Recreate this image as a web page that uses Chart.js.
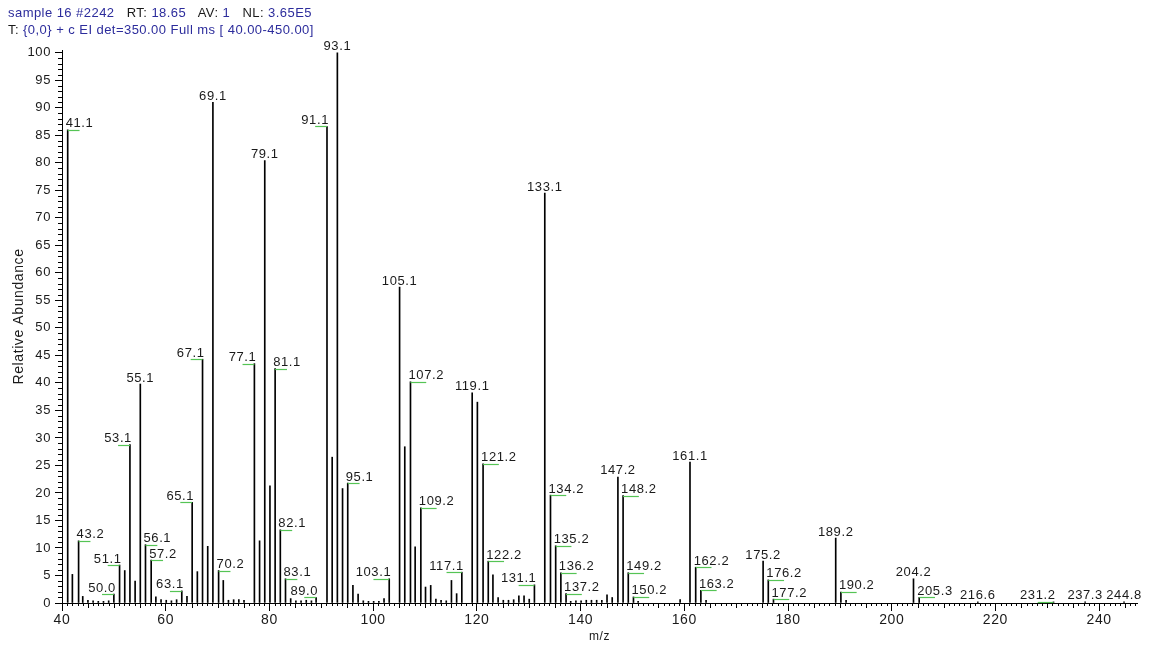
<!DOCTYPE html>
<html>
<head>
<meta charset="utf-8">
<script src="https://cdn.jsdelivr.net/npm/chart.js@4/dist/chart.umd.min.js"></script>
<style>
  html, body { margin: 0; padding: 0; background: #fff; }
  #wrap { position: relative; width: 1153px; height: 646px; overflow: hidden; }
  canvas { position: absolute; left: 0; top: 0; }
  #hdr { position: absolute; left: 8px; top: 4px; font: 13px "Liberation Sans", Arial, sans-serif;
         letter-spacing: 0.45px; line-height: 17px; color: #1a1a1a; white-space: pre; }
  #hdr .v { color: #2c2c9c; }
</style>
</head>
<body>
<div id="wrap">
  <canvas id="spec" width="1153" height="646"></canvas>
  <div id="hdr"><div><span class="v">sample 16 #2242</span>   RT: <span class="v">18.65</span>   AV: <span class="v">1</span>   NL: <span class="v">3.65E5</span></div><div>T: <span class="v">{0,0} + c EI det=350.00 Full ms [ 40.00-450.00]</span></div></div>
</div>
<script>
// Centroid list: m/z and relative abundance (%)
const mz = [
  40.0, 41.1, 42.0, 43.2, 44.0, 45.0, 46.0, 47.0, 48.0, 49.0,
  50.0, 51.1, 52.1, 53.1, 54.1, 55.1, 56.1, 57.2, 58.1, 59.1,
  60.1, 61.1, 62.1, 63.1, 64.1, 65.1, 66.1, 67.1, 68.1, 69.1,
  70.2, 71.1, 72.1, 73.1, 74.1, 75.1, 77.1, 78.1, 79.1, 80.1,
  81.1, 82.1, 83.1, 84.1, 85.1, 86.1, 87.1, 88.1, 89.0, 91.1,
  92.1, 93.1, 94.1, 95.1, 96.1, 97.1, 98.1, 99.1, 100.1, 101.1,
  102.1, 103.1, 105.1, 106.1, 107.2, 108.1, 109.2, 110.1, 111.1, 112.1,
  113.1, 114.1, 115.1, 116.1, 117.1, 119.1, 120.1, 121.2, 122.2, 123.1,
  124.1, 125.1, 126.1, 127.1, 128.1, 129.1, 130.1, 131.1, 133.1, 134.2,
  135.2, 136.2, 137.2, 138.1, 139.1, 140.1, 141.1, 142.1, 143.1, 144.1,
  145.1, 146.1, 147.2, 148.2, 149.2, 150.2, 151.1, 159.2, 161.1, 162.2,
  163.2, 164.2, 175.2, 176.2, 177.2, 189.2, 190.2, 191.2, 204.2, 205.3,
  216.6, 231.2, 237.3, 244.8
];
const abundance = [
  7.0, 86.0, 5.2, 11.3, 1.2, 0.5, 0.4, 0.3, 0.3, 0.4,
  1.6, 6.9, 5.9, 28.8, 4.0, 39.8, 10.6, 7.8, 1.1, 0.6,
  0.5, 0.4, 0.6, 2.2, 1.2, 18.3, 5.7, 44.3, 10.3, 91.0,
  5.9, 4.1, 0.5, 0.6, 0.6, 0.5, 43.5, 11.3, 80.4, 21.3,
  42.6, 13.3, 4.4, 0.8, 0.4, 0.4, 0.5, 0.4, 1.0, 86.6,
  26.5, 100.0, 20.8, 21.8, 3.2, 1.6, 0.4, 0.3, 0.3, 0.3,
  0.8, 4.4, 57.4, 28.4, 40.2, 10.2, 17.3, 2.9, 3.2, 0.7,
  0.5, 0.4, 4.1, 1.7, 5.6, 38.2, 36.5, 25.3, 7.6, 5.1,
  1.0, 0.5, 0.5, 0.6, 1.3, 1.3, 0.7, 3.3, 74.5, 19.6,
  10.4, 5.5, 1.7, 0.3, 0.4, 0.4, 0.5, 0.5, 0.5, 0.5,
  1.5, 1.0, 22.9, 19.5, 5.5, 1.1, 0.3, 0.6, 25.6, 6.5,
  2.3, 0.5, 7.6, 4.2, 0.7, 11.8, 2.0, 0.5, 4.4, 1.0,
  0.2, 0.2, 0.2, 0.2
];

// Annotated peaks and the side their label sits on (c = centred, l = left, r = right)
const labelMz = [
  41.1, 43.2, 50.0, 51.1, 53.1, 55.1, 56.1, 57.2, 63.1, 65.1,
  67.1, 69.1, 70.2, 77.1, 79.1, 81.1, 82.1, 83.1, 89.0, 91.1,
  93.1, 95.1, 103.1, 105.1, 107.2, 109.2, 117.1, 119.1, 121.2, 122.2,
  131.1, 133.1, 134.2, 135.2, 136.2, 137.2, 147.2, 148.2, 149.2, 150.2,
  161.1, 162.2, 163.2, 175.2, 176.2, 177.2, 189.2, 190.2, 204.2, 205.3,
  216.6, 231.2, 237.3, 244.8
];
const labelSide = [
  'r', 'r', 'l', 'l', 'l', 'c', 'r', 'r', 'l', 'l',
  'l', 'c', 'r', 'l', 'c', 'r', 'r', 'r', 'l', 'l',
  'c', 'r', 'l', 'c', 'r', 'r', 'l', 'c', 'r', 'r',
  'l', 'c', 'r', 'r', 'r', 'r', 'c', 'r', 'r', 'r',
  'c', 'r', 'r', 'c', 'r', 'r', 'c', 'r', 'c', 'r',
  'c', 'l', 'c', 'c'
];

// Axis ranges and tick values
const xMin = 40, xMax = 247.3;
const xTickValues = [40, 60, 80, 100, 120, 140, 160, 180, 200, 220, 240];
const yMin = 0, yMax = 100.5;
const yTickValues = [0, 5, 10, 15, 20, 25, 30, 35, 40, 45, 50, 55, 60, 65, 70, 75, 80, 85, 90, 95, 100];
const yTitle = 'Relative Abundance';

const FONT = '"Liberation Sans", Arial, sans-serif';
const INK = '#1a1a1a';

// Slightly open lettering for all canvas text
const spacing = {
  id: 'spacing',
  beforeDraw(chart) { chart.ctx.letterSpacing = '0.6px'; }
};

// Vertical axis title, set a little above the middle of the axis
const yAxisTitle = {
  id: 'yAxisTitle',
  afterDraw(chart) {
    const { ctx, chartArea } = chart;
    ctx.save();
    ctx.font = '14px ' + FONT;
    ctx.letterSpacing = '0.6px';
    ctx.fillStyle = INK;
    ctx.textAlign = 'center';
    ctx.textBaseline = 'middle';
    ctx.translate(19, (chartArea.top + chartArea.bottom) / 2 - 10);
    ctx.rotate(-Math.PI / 2);
    ctx.fillText(yTitle, 0, 0);
    ctx.restore();
  }
};

// Minor tick marks on both axes (every 1 unit, medium marks every 5 on m/z)
const minorTicks = {
  id: 'minorTicks',
  afterDraw(chart) {
    const { ctx, scales: { x, y } } = chart;
    const x0 = x.getPixelForValue(xMin);
    const y0 = y.getPixelForValue(0);
    ctx.save();
    ctx.strokeStyle = '#000';
    ctx.lineWidth = 1;
    ctx.beginPath();
    for (let v = 1; v < 100; v++) {
      if (v % 5 === 0) continue;
      const py = Math.round(y.getPixelForValue(v)) + 0.5;
      ctx.moveTo(x0 - 4, py);
      ctx.lineTo(x0, py);
    }
    for (let m = Math.ceil(xMin); m <= xMax; m++) {
      if (m % 20 === 0) continue;
      const px = Math.round(x.getPixelForValue(m)) + 0.5;
      const len = (m % 5 === 0) ? 5 : 3;
      ctx.moveTo(px, y0);
      ctx.lineTo(px, y0 + len);
    }
    ctx.stroke();
    ctx.restore();
  }
};

// Peak annotations: m/z text above each labelled stick, with a green leader when shifted sideways
const peakLabels = {
  id: 'peakLabels',
  afterDatasetsDraw(chart) {
    const { ctx, scales: { x, y } } = chart;
    ctx.save();
    ctx.font = '13px ' + FONT;
    ctx.letterSpacing = '0.6px';
    ctx.textAlign = 'center';
    ctx.textBaseline = 'alphabetic';
    labelMz.forEach((m, i) => {
      const k = mz.indexOf(m);
      if (k < 0) return;
      const px = x.getPixelForValue(m);
      const py = y.getPixelForValue(abundance[k]);
      const text = m.toFixed(1);
      const w = ctx.measureText(text).width;
      let cx = px;
      if (labelSide[i] === 'r') cx = px - 2 + w / 2;
      if (labelSide[i] === 'l') cx = px + 2 - w / 2;
      if (labelSide[i] !== 'c') {
        ctx.strokeStyle = '#55c455';
        ctx.lineWidth = 1.2;
        ctx.beginPath();
        ctx.moveTo(px, Math.round(py) + 0.5);
        ctx.lineTo(cx, Math.round(py) + 0.5);
        ctx.stroke();
      }
      ctx.fillStyle = INK;
      ctx.fillText(text, cx, py - 2.5);
    });
    ctx.restore();
  }
};

new Chart(document.getElementById('spec'), {
  type: 'bar',
  data: {
    datasets: [{
      data: mz.map((m, i) => ({ x: m, y: abundance[i] })),
      backgroundColor: '#000',
      borderWidth: 0,
      barThickness: 1
    }]
  },
  options: {
    responsive: false,
    animation: false,
    events: [],
    layout: { padding: { left: 0, right: 16, top: 50, bottom: 0 } },
    plugins: { legend: { display: false }, tooltip: { enabled: false } },
    scales: {
      x: {
        type: 'linear',
        min: xMin,
        max: xMax,
        offset: false,
        grid: { offset: false, drawOnChartArea: false, drawTicks: true, tickLength: 8, color: '#000' },
        border: { color: '#000', width: 1 },
        ticks: { color: INK, font: { family: FONT, size: 14 }, padding: 1, maxRotation: 0, autoSkip: false },
        afterBuildTicks: s => { s.ticks = xTickValues.map(v => ({ value: v })); },
        title: { display: true, text: 'm/z', color: INK, font: { family: FONT, size: 12 }, padding: { top: 0, bottom: 2 } },
        afterFit: s => { s.height = 43; }
      },
      y: {
        min: yMin,
        max: yMax,
        grid: { drawOnChartArea: false, drawTicks: true, tickLength: 7, color: '#000' },
        border: { color: '#000', width: 1 },
        ticks: { color: INK, font: { family: FONT, size: 13 }, padding: 4, autoSkip: false },
        afterBuildTicks: s => { s.ticks = yTickValues.map(v => ({ value: v })); },
        afterFit: s => { s.width = 62; }
      }
    }
  },
  plugins: [spacing, yAxisTitle, minorTicks, peakLabels]
});
</script>
</body>
</html>
